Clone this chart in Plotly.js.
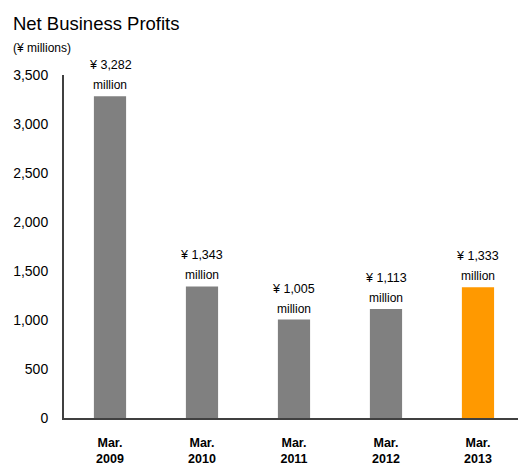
<!DOCTYPE html>
<html><head><meta charset="utf-8">
<script src="https://cdn.plot.ly/plotly-3.0.1.min.js"></script>
<style>body{margin:0;background:#fff}#c{width:518px;height:466px}</style>
</head><body><div id="c"></div>
<script>
var categories = ["Mar.<br>2009","Mar.<br>2010","Mar.<br>2011","Mar.<br>2012","Mar.<br>2013"];
var values = [3282, 1343, 1005, 1113, 1333];
var valueLabels = ["¥ 3,282","¥ 1,343","¥ 1,005","¥ 1,113","¥ 1,333"];
var unitLabel = "million";
var barColors = ["#808080","#808080","#808080","#808080","#FF9900"];
var idx = categories.map(function(_, i){return i;});
var font = "Liberation Sans, Arial, sans-serif";
var data = [{
  type: "bar", x: idx, y: values,
  marker: {color: barColors},
  width: 0.35, hoverinfo: "none"
}];
var annotations = [];
idx.forEach(function(i){
  annotations.push({x: i, y: values[i], xref: "x", yref: "y", text: valueLabels[i],
    showarrow: false, yanchor: "bottom", yshift: 22,
    font: {family: font, size: 12.5, color: "#000"}});
  annotations.push({x: i, y: values[i], xref: "x", yref: "y", text: unitLabel,
    showarrow: false, yanchor: "bottom", yshift: 2,
    font: {family: font, size: 12, color: "#000"}});
});
annotations.push({xref: "paper", yref: "paper", x: -0.116, y: 1.080, xanchor: "left", yanchor: "middle",
  text: "(¥ millions)", showarrow: false, font: {family: font, size: 12, color: "#000"}});
var layout = {
  width: 518, height: 466,
  margin: {l: 64, r: 0, t: 75, b: 48},
  paper_bgcolor: "#fff", plot_bgcolor: "#fff",
  title: {text: "Net Business Profits", x: 0.025, xanchor: "left", y: 0.9496, yanchor: "middle",
    font: {family: font, size: 18.5, color: "#000"}},
  showlegend: false,
  xaxis: {range: [-0.5, 4.435], tickvals: idx, ticktext: categories, showgrid: false, zeroline: false,
    showline: true, linecolor: "#404040", linewidth: 2, ticks: "", ticklabelstandoff: 12,
    tickfont: {family: font, size: 12.5, color: "#000", weight: "bold"}, fixedrange: true},
  yaxis: {range: [0, 3500], dtick: 500, tickformat: ",d", showgrid: false, zeroline: false,
    showline: true, linecolor: "#404040", linewidth: 2, ticks: "", ticklabelstandoff: 11,
    tickfont: {family: font, size: 14, color: "#000"}, fixedrange: true},
  annotations: annotations,
  bargap: 0.65
};
Plotly.newPlot("c", data, layout, {displayModeBar: false, staticPlot: true});
</script></body></html>
